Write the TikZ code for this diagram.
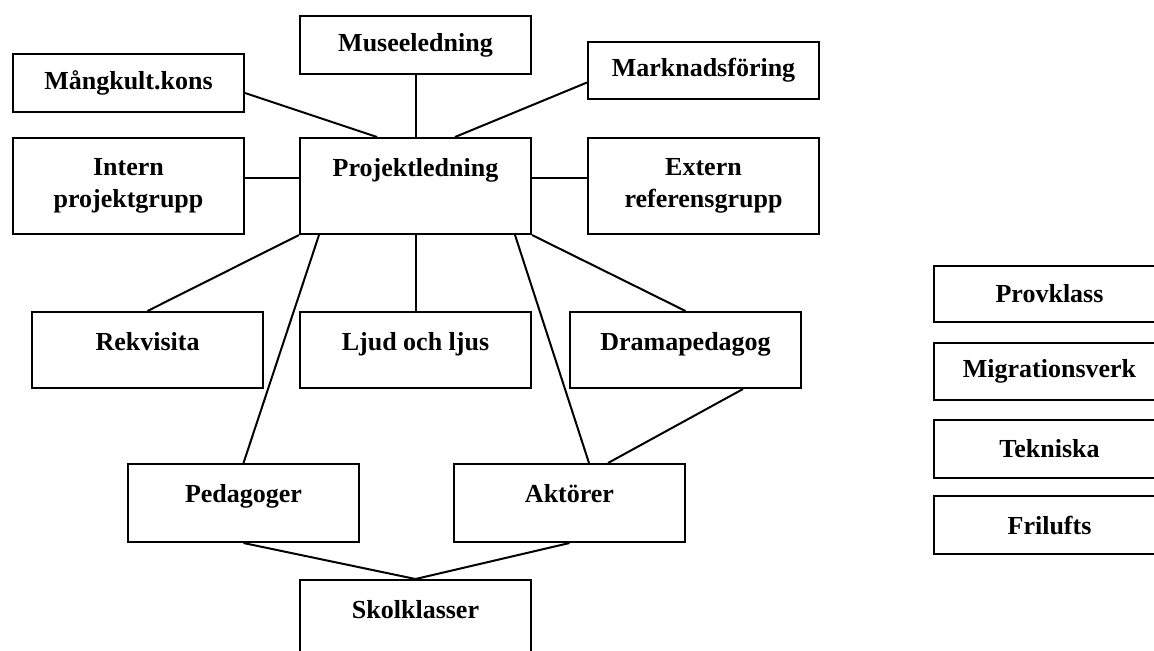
\documentclass[tikz,border=0pt]{standalone}
\usepackage{fontspec}
\setmainfont{Liberation Serif}
\usepackage{tikz}

\begin{document}
\begin{tikzpicture}[x=0.5pt, y=-0.5pt,
        unit/.style={draw=black, line width=1pt, anchor=north west, inner sep=0pt, align=center,
          minimum width=115.5pt, font=\fontsize{13}{16}\selectfont\bfseries},
        midbox/.style={unit, minimum height=#1},
        topbox/.style={unit, text height=19pt, text depth=#1},
        link/.style={draw=black, line width=1pt}
      ]
      \useasboundingbox (0,0) rectangle (1154,650);

      \node[midbox=29pt] (mangkult) at (12,53) {Mångkult.kons};
      \node[midbox=29pt] (musee) at (299,15) {Museeledning};
      \node[midbox=28.5pt] (marknad) at (587,41) {Marknadsföring};

      \node[midbox=48pt] (intern) at (12,137) {Intern\\projektgrupp};
      \node[topbox=29pt] (proj) at (299,137) {Projektledning};
      \node[midbox=48pt] (extern) at (587,137) {Extern\\referensgrupp};

      \node[topbox=19pt] (rekv) at (31,311) {Rekvisita};
      \node[topbox=19pt] (ljud) at (299,311) {Ljud och ljus};
      \node[topbox=19pt] (drama) at (569,311) {Dramapedagog};

      \node[topbox=20pt] (ped) at (127,463) {Pedagoger};
      \node[topbox=20pt] (akt) at (453,463) {Aktörer};
      \node[topbox=19pt] (skol) at (299,579) {Skolklasser};

      \node[midbox=28pt] (provklass) at (933,265) {Provklass};
      \node[midbox=28.5pt] (migr) at (933,342) {Migrationsverk};
      \node[midbox=29pt] (tekn) at (933,419) {Tekniska};
      \node[midbox=29pt] (frilufts) at (933,495) {Frilufts};

      \draw[link] ([yshift=-5pt]mangkult.east) -- ([xshift=39pt]proj.north west);
      \draw[link] (musee) -- (proj);
      \draw[link] ([yshift=-6pt]marknad.west) -- ([xshift=-38.5pt]proj.north east);
      \draw[link] ([yshift=4pt]intern.east) -- ([yshift=4pt]proj.west);
      \draw[link] ([yshift=4pt]proj.east) -- ([yshift=4pt]extern.west);

      \draw[link] (proj.south west) -- (rekv.north);
      \draw[link] ([xshift=10pt]proj.south west) -- (ped.north);
      \draw[link] (proj) -- (ljud);
      \draw[link] ([xshift=-8.5pt]proj.south east) -- ([xshift=9.75pt]akt.north);
      \draw[link] (proj.south east) -- (drama.north);
      \draw[link] ([xshift=28.75pt]drama.south) -- ([xshift=19.25pt]akt.north);

      \draw[link] (ped.south) -- (skol.north);
      \draw[link] (akt.south) -- (skol.north);
    \end{tikzpicture}
\end{document}
